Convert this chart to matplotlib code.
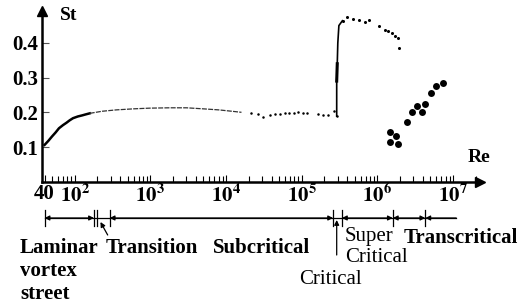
import matplotlib.pyplot as plt
import matplotlib.transforms as mtransforms

plt.rcParams['font.family'] = 'Liberation Serif'
plt.rcParams['mathtext.fontset'] = 'stix'

# laminar / subcritical curve (continuous line)
lam_re = [40, 45, 50, 56, 62, 70, 78, 86, 95, 110, 125, 140, 158]
lam_st = [0.106, 0.118, 0.13, 0.142, 0.154, 0.163, 0.17, 0.177, 0.183,
          0.188, 0.191, 0.194, 0.197]
sub_re = [158, 230, 355, 600, 980, 1800, 3000, 5000, 8000, 12000, 16000]
sub_st = [0.197, 0.203, 0.207, 0.21, 0.212, 0.213, 0.213, 0.21, 0.207, 0.203, 0.2]

# subcritical scattered points
dots_re = [2.17e4, 2.66e4, 3.1e4, 3.8e4, 4.4e4, 5.15e4, 6.0e4, 6.84e4, 7.9e4,
           9.0e4, 1.03e5, 1.18e5, 1.65e5, 1.92e5, 2.24e5, 2.67e5, 2.9e5]
dots_st = [0.197, 0.195, 0.187, 0.193, 0.194, 0.195, 0.197, 0.199, 0.199,
           0.200, 0.199, 0.199, 0.194, 0.192, 0.191, 0.204, 0.189]

# critical jump
jump_re = [2.9e5, 2.9e5, 2.95e5, 3.0e5, 3.1e5, 3.45e5]
jump_st = [0.189, 0.29, 0.34, 0.40, 0.45, 0.464]
thick_re = [2.9e5, 2.95e5]
thick_st = [0.29, 0.34]

# supercritical points
sup_re = [3.47e5, 4.0e5, 4.8e5, 5.77e5, 6.86e5, 7.8e5, 1.06e6, 1.26e6,
          1.39e6, 1.55e6, 1.71e6, 1.89e6, 1.95e6]
sup_st = [0.464, 0.476, 0.470, 0.467, 0.461, 0.467, 0.449, 0.438,
          0.433, 0.429, 0.421, 0.414, 0.385]

# transcritical points
tr_re = [1.47e6, 1.76e6, 1.47e6, 1.85e6, 2.48e6, 2.9e6, 3.31e6, 3.86e6,
         4.3e6, 5.12e6, 6.01e6, 7.45e6]
tr_st = [0.142, 0.131, 0.115, 0.110, 0.173, 0.200, 0.219, 0.202,
         0.224, 0.257, 0.275, 0.284]

xticks = [40, 1e2, 1e3, 1e4, 1e5, 1e6, 1e7]
xlabels = ['40', r'$\mathbf{10^2}$', r'$\mathbf{10^3}$', r'$\mathbf{10^4}$',
           r'$\mathbf{10^5}$', r'$\mathbf{10^6}$', r'$\mathbf{10^7}$']
yticks = [0.1, 0.2, 0.3, 0.4]

# flow regime boundaries
bounds = [40, 180, 290, 2.6e5, 3.4e5, 1.6e6, 4.3e6, 1.1e7]

fig = plt.figure(figsize=(5.29, 3.07), dpi=100)
ax = fig.add_axes([42 / 529, 1 - 181.7 / 307, 438 / 529, 170.7 / 307])

ax.plot(lam_re, lam_st, color='k', lw=1.8)
ax.plot(sub_re, sub_st, color='#333333', lw=0.9, ls=(0, (4, 1)))
ax.plot(dots_re, dots_st, 'o', color='k', ms=1.8, mew=0)
ax.plot(jump_re, jump_st, color='k', lw=1.2)
ax.plot(thick_re, thick_st, color='k', lw=2.2)
ax.plot(sup_re, sup_st, 'o', color='k', ms=2.2, mew=0)
ax.plot(tr_re, tr_st, 'o', color='k', ms=5, mew=0)

ax.set_xscale('log')
ax.set_xlim(37, 2.27e7)
ax.set_ylim(0, 0.492)
for s in ['top', 'right']:
    ax.spines[s].set_visible(False)
for s in ['left', 'bottom']:
    ax.spines[s].set_linewidth(1.8)
ax.plot(1, 0, marker='>', color='k', ms=7, transform=ax.transAxes, clip_on=False)
ax.plot(0, 1, marker='^', color='k', ms=7, transform=ax.transAxes, clip_on=False)

ax.set_xticks(xticks)
ax.set_xticklabels(xlabels, fontsize=15, fontweight='bold')
ax.tick_params(axis='x', which='major', direction='in', length=5, width=0.8, pad=2)
ax.tick_params(axis='x', which='minor', direction='in', length=4, width=0.8)
ax.set_yticks(yticks)
ax.set_yticklabels(['0.1', '0.2', '0.3', '0.4'], fontsize=15, fontweight='bold')
ax.tick_params(axis='y', direction='in', length=5, width=0.8, pad=3, color='#555555')

fig.text(60 / 529, 1 - 16 / 307, 'St', fontsize=14, fontweight='bold', va='center')
fig.text(468 / 529, 1 - 158 / 307, 'Re', fontsize=14, fontweight='bold', va='center')

# regime annotation line under the axis
trans = mtransforms.blended_transform_factory(ax.transData, fig.transFigure)
yl = 1 - 218 / 307
y0, y1 = 1 - 226 / 307, 1 - 210 / 307
ax.plot([bounds[0], bounds[-1]], [yl, yl], color='k', lw=0.9, transform=trans, clip_on=False)
for b in bounds[:-1] + [200]:
    ax.plot([b, b], [y0, y1], color='k', lw=0.9, transform=trans, clip_on=False)
segs = [(bounds[0], bounds[1], '<|-|>'), (bounds[2], bounds[3], '<|-|>'),
        (bounds[4], bounds[5], '<|-|>'), (bounds[5], bounds[6], '<|-|>'),
        (bounds[6], bounds[7], '<|-')]
for a, b, st in segs:
    ax.annotate('', xy=(b, yl), xycoords=trans, xytext=(a, yl), textcoords=trans,
                arrowprops=dict(arrowstyle=st, color='k', lw=0.9, shrinkA=0, shrinkB=0,
                                mutation_scale=7),
                annotation_clip=False)
# pointers for transition and critical
ax.annotate('', xy=(219, 1 - 222 / 307), xycoords=trans, xytext=(273, 1 - 235 / 307),
            textcoords=trans, annotation_clip=False,
            arrowprops=dict(arrowstyle='-|>', color='k', lw=0.9, shrinkA=0, shrinkB=0,
                            mutation_scale=7))
ax.annotate('', xy=(2.9e5, 1 - 220 / 307), xycoords=trans, xytext=(2.9e5, 1 - 255 / 307),
            textcoords=trans, annotation_clip=False,
            arrowprops=dict(arrowstyle='-|>', color='k', lw=0.9, shrinkA=0, shrinkB=0,
                            mutation_scale=7))

def ftext(px, py, s, bold=True):
    fig.text(px / 529, 1 - py / 307, s, fontsize=15, va='center',
             fontweight='bold' if bold else 'normal')

ftext(20, 248, 'Laminar')
ftext(20, 271, 'vortex')
ftext(20, 294, 'street')
ftext(106, 248, 'Transition')
ftext(213, 248, 'Subcritical')
ftext(299, 280, 'Critical', bold=False)
ftext(345, 236, 'Super', bold=False)
ftext(345, 258, 'Critical', bold=False)
ftext(404, 238, 'Transcritical')

fig.savefig('out.png', dpi=100)
